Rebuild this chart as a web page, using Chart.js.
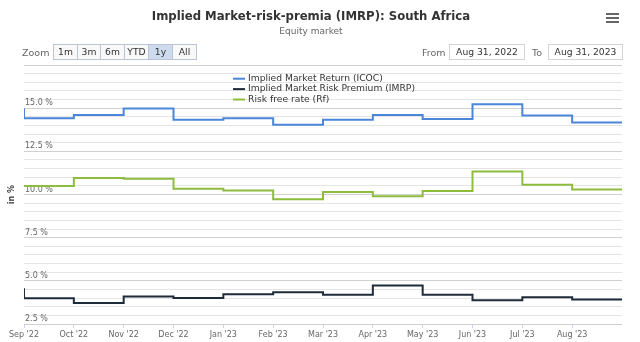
<!DOCTYPE html>
<html>
<head>
<meta charset="utf-8">
<title>Implied Market-risk-premia (IMRP): South Africa</title>
<script src="https://cdn.jsdelivr.net/npm/chart.js@4.4.0/dist/chart.umd.min.js"></script>
<style>
  body { margin: 0; background: #fff; font-family: "DejaVu Sans", sans-serif; }
  #wrap { position: relative; width: 640px; height: 342px; overflow: hidden; }
  #wrap canvas { position: absolute; left: 0; top: 0; }
  .lbl { position: absolute; top: 46px; font-size: 9.5px; color: #666; line-height: 13px; }
  .btn { position: absolute; top: 44px; height: 16px; box-sizing: border-box; border: 1px solid #b9c5d4;
         background: #f8f8f8; font-size: 9.2px; color: #333; text-align: center; line-height: 14px; }
  .btn.on { background: #cddbec; }
  .date { position: absolute; top: 44px; height: 16px; box-sizing: border-box; border: 1px solid #d4d4d4;
          background: #fff; font-size: 9.2px; color: #333; line-height: 14px; text-align: center; }
  .menu div { position: absolute; left: 606px; width: 13px; height: 2px; background: #666; }
</style>
</head>
<body>
<div id="wrap">
  <canvas id="chart" width="640" height="342"></canvas>

  <div class="menu"><div style="top:13px"></div><div style="top:17px"></div><div style="top:21px"></div></div>

  <div class="lbl" style="left:22px">Zoom</div>
  <div class="btn" style="left:53px;width:25px">1m</div>
  <div class="btn" style="left:77px;width:24px">3m</div>
  <div class="btn" style="left:100px;width:25px">6m</div>
  <div class="btn" style="left:124px;width:25px">YTD</div>
  <div class="btn on" style="left:148px;width:25px">1y</div>
  <div class="btn" style="left:172px;width:25px">All</div>

  <div class="lbl" style="left:422px">From</div>
  <div class="date" style="left:449px;width:76px">Aug 31, 2022</div>
  <div class="lbl" style="left:532px">To</div>
  <div class="date" style="left:548px;width:75px">Aug 31, 2023</div>
</div>

<script>
// month-end observations, Aug 31 2022 .. Aug 31 2023
const dates = ['2022-08-31', '2022-09-30', '2022-10-31', '2022-11-30', '2022-12-31', '2023-01-31',
  '2023-02-28', '2023-03-31', '2023-04-30', '2023-05-31', '2023-06-30', '2023-07-31', '2023-08-31'];

const monthTicks = ["Sep '22", "Oct '22", "Nov '22", "Dec '22", "Jan '23", "Feb '23",
  "Mar '23", "Apr '23", "May '23", "Jun '23", "Jul '23", "Aug '23"];

const icoc = [15.00, 14.42, 14.61, 14.98, 14.33, 14.42, 14.04, 14.33, 14.61, 14.38, 15.23, 14.58, 14.17];
const imrp = [4.57, 3.99, 3.71, 4.09, 4.01, 4.23, 4.34, 4.19, 4.73, 4.19, 3.88, 4.05, 3.92];
const rf = [10.53, 10.50, 10.96, 10.92, 10.34, 10.23, 9.73, 10.15, 9.90, 10.21, 11.34, 10.57, 10.29];

const FONT = '"DejaVu Sans", sans-serif';

function points(values) {
  return values.map((v, i) => ({ x: i, y: v }));
}

// legend sits inside the plot, top centre, one entry per row
const innerLegend = {
  id: 'innerLegend',
  afterDraw(chart) {
    const ctx = chart.ctx;
    ctx.save();
    ctx.font = '9.2px ' + FONT;
    ctx.textBaseline = 'middle';
    chart.data.datasets.forEach((ds, i) => {
      const y = 78.7 + i * 10.4;
      ctx.strokeStyle = ds.borderColor;
      ctx.lineWidth = 2;
      ctx.beginPath();
      ctx.moveTo(233, y);
      ctx.lineTo(245, y);
      ctx.stroke();
      ctx.fillStyle = '#333';
      ctx.fillText(ds.label, 248, y);
    });
    ctx.restore();
  }
};

const isMajor = v => Math.round(v * 10) % 25 === 0;

new Chart(document.getElementById('chart'), {
  type: 'line',
  data: {
    datasets: [
      { label: 'Implied Market Return (ICOC)', data: points(icoc), borderColor: '#4b86d9' },
      { label: 'Implied Market Risk Premium (IMRP)', data: points(imrp), borderColor: '#1d2b3a' },
      { label: 'Risk free rate (Rf)', data: points(rf), borderColor: '#8ebc3f' }
    ]
  },
  options: {
    responsive: false,
    animation: false,
    events: [],
    elements: {
      line: { stepped: 'after', borderWidth: 2, fill: false },
      point: { radius: 0 }
    },
    layout: { padding: { top: 0, left: 0, right: 18, bottom: 0 } },
    plugins: {
      legend: { display: false },
      tooltip: { enabled: false },
      title: {
        display: true,
        text: 'Implied Market-risk-premia (IMRP): South Africa',
        color: '#333',
        font: { family: FONT, size: 11.7, weight: 'bold' },
        padding: { top: 10, bottom: 0 }
      },
      subtitle: {
        display: true,
        text: 'Equity market',
        color: '#666',
        font: { family: FONT, size: 9 },
        padding: { top: 2, bottom: 28.2 }
      }
    },
    scales: {
      x: {
        type: 'linear',
        min: 0,
        max: 12,
        afterFit: scale => { scale.height = 18; },
        grid: {
          drawOnChartArea: false,
          tickLength: 4,
          color: c => (c.tick && c.tick.value === 12 ? 'rgba(0,0,0,0)' : '#ccd6eb')
        },
        border: { display: false },
        ticks: {
          stepSize: 1,
          autoSkip: false,
          maxRotation: 0,
          padding: 2,
          color: '#666',
          font: { family: FONT, size: 8 },
          callback: v => monthTicks[v] || ''
        }
      },
      y: {
        min: 2.5,
        max: 17.5,
        afterFit: scale => { scale.width = 24; },
        grid: {
          drawTicks: false,
          color: c => (c.tick && isMajor(c.tick.value) ? '#d0d0d0' : '#e4e4e4')
        },
        border: { display: false },
        ticks: {
          stepSize: 0.5,
          autoSkip: false,
          mirror: true,
          padding: 1,
          labelOffset: -5,
          color: '#666',
          font: { family: FONT, size: 8 },
          callback: v => (isMajor(v) && v < 17.5 ? v.toFixed(1) + ' %' : '')
        },
        title: {
          display: true,
          text: 'in %',
          color: '#333',
          font: { family: FONT, size: 8, weight: 'bold' },
          padding: { top: 7.2, bottom: 4.2 }
        }
      }
    }
  },
  plugins: [innerLegend]
});
</script>
</body>
</html>
